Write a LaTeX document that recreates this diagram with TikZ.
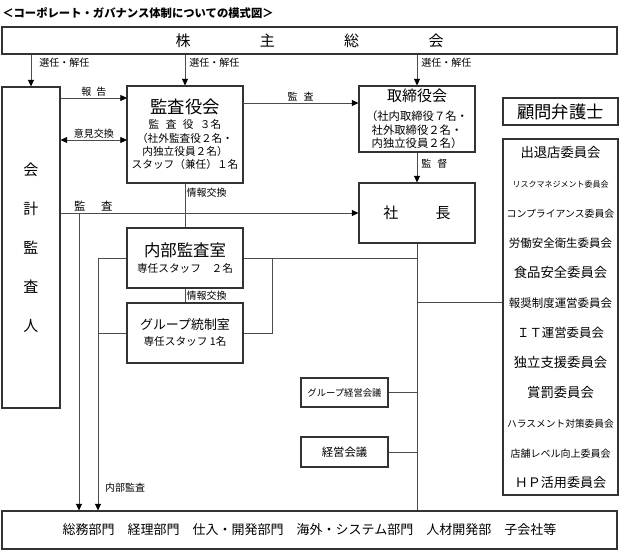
\documentclass[tikz,border=0pt]{standalone}
\usepackage{fontspec}
\setmainfont{Noto Sans CJK JP}
\usetikzlibrary{arrows.meta}

\newcommand{\fsize}[2]{\fontsize{#1}{#2}\selectfont}

\begin{document}
\begin{tikzpicture}%
	[x=0.75pt,
	y=-0.75pt,
	box/.style={draw=black!80, line width=0.8pt, inner sep=0pt, align=center},
	link/.style={draw=black!70, line width=0.6pt},
	arr/.style={link, -{Triangle[length=5pt,width=4.5pt,color=black]}},
	arrs/.style={link, {Triangle[length=5pt,width=4.5pt,color=black]}-{Triangle[length=5pt,width=4.5pt,color=black]}},
	lbl/.style={font=\fsize{7.5}{9}, inner sep=1pt}]
	%
	\useasboundingbox (0,0) rectangle (624,553);
	%
	%% Title
	%%
	\node[anchor=west, inner sep=0pt, font=\bfseries\fsize{8.5}{10}] (title) at (2,13) {＜コーポレート・ガバナンス体制についての模式図＞};
	%%
	%% Boxes
	%%
	\node[box, minimum width=461.25pt, minimum height=20.25pt, font=\fsize{11.25}{13}] (holders) at (309.5,40.5) {株\hspace{52pt}主\hspace{52pt}総\hspace{52pt}会};
	\node[box, minimum width=43.5pt, minimum height=240.75pt, font=\fsize{11.25}{29.25}] (auditor) at (31,247.5) {会\\計\\監\\査\\人};
	\node[box, minimum width=87pt, minimum height=72.75pt, font=\fsize{8}{10}] (kansa) at (185,134.5) {{\fsize{13}{15}監査役会}\\[1.5pt] 監\hspace{.6em}査\hspace{.6em}役\hspace{.6em}３名\\ （社外監査役２名・\\ 内独立役員２名）\\ スタッフ（兼任）１名};
	\node[box, minimum width=87pt, minimum height=49.5pt, font=\fsize{8.5}{10.1}] (board) at (417,119) {{\fsize{11.25}{13}取締役会}\\[4pt] （社内取締役７名・\\ 社外取締役２名・\\ 内独立役員２名）};
	\node[box, minimum width=86.25pt, minimum height=20.25pt, font=\fsize{13}{15}] (lawyer) at (560.5,111.5) {顧問弁護士};
	\node[box, minimum width=86.25pt, minimum height=267pt, font=\fsize{8}{22.5}] (committee) at (560.5,317) {{\fsize{10}{12}出退店委員会}\\ {\fsize{6}{8}リスクマネジメント委員会}\\ {\fsize{7.4}{9}コンプライアンス委員会}\\ {\fsize{8.6}{10}労働安全衛生委員会}\\ {\fsize{10}{12}食品安全委員会}\\ {\fsize{8.6}{10}報奨制度運営委員会}\\ {\fsize{9.3}{11}ＩＴ運営委員会}\\ {\fsize{10}{12}独立支援委員会}\\ {\fsize{10}{12}賞罰委員会}\\ {\fsize{7.3}{9}ハラスメント対策委員会}\\ {\fsize{7.5}{9}店舗レベル向上委員会}\\ {\fsize{9.8}{12}ＨＰ活用委員会}};
	\node[box, minimum width=87pt, minimum height=45pt, font=\fsize{11.25}{13}] (president) at (417,213) {社\hspace{28pt}長};
	\node[box, minimum width=87pt, minimum height=45pt, font=\fsize{8}{10}] (internal) at (185,258) {{\fsize{12.3}{14}内部監査室}\\[2.5pt] 専任スタッフ　２名};
	\node[box, minimum width=87pt, minimum height=45pt, font=\fsize{8}{10}] (group) at (185,333) {{\fsize{9.7}{12}グループ統制室}\\[2pt] 専任スタッフ\ 1名};
	\node[box, minimum width=65.25pt, minimum height=21.75pt, font=\fsize{7}{9}] (gmeeting) at (344.5,392.5) {グループ経営会議};
	\node[box, minimum width=65.25pt, minimum height=22.5pt, font=\fsize{8.5}{10}] (meeting) at (344.5,452) {経営会議};
	\node[box, minimum width=461.25pt, minimum height=28.5pt, font=\fsize{9.75}{12}] (depts) at (309.5,530) {総務部門　経理部門　仕入・開発部門　海外・システム部門　人材開発部　子会社等};
	%%
	%% Corners of the connectors
	%%
	\coordinate (rep) at (127,98);
	\coordinate (opn) at (127,140);
	\coordinate (aud) at (243,103);
	\coordinate (chk) at (79,213);
	\coordinate (ia) at (98,258);
	\coordinate (ic) at (272,258);
	\coordinate (trunk) at (417,302);
	%%
	%% Arrows from the shareholders
	%%
	\draw[arr] (auditor.north |- holders.south) -- (auditor.north) node[lbl, pos=0.27, right, xshift=5pt] {選任・解任};
	\draw[arr] (kansa.north |- holders.south) -- (kansa.north) node[lbl, pos=0.27, right, xshift=2pt] {選任・解任};
	\draw[arr] (board.north |- holders.south) -- (board.north) node[lbl, pos=0.27, right, xshift=2pt] {選任・解任};
	%%
	%% Audit lines
	%%
	\draw[arr] (auditor.east |- rep) -- (rep) node[lbl, midway, above] {報\hspace{.5em}告};
	\draw[arrs] (auditor.east |- opn) -- (opn) node[lbl, midway, above] {意見交換};
	\draw[arr] (aud) -- (board.west |- aud) node[lbl, midway, above] {監\hspace{.6em}査};
	\draw[arr] (board.south) -- (president.north) node[lbl, midway, right, xshift=2pt, yshift=3pt] {監\hspace{.6em}督};
	\draw[arr] (auditor.east |- president.west) -- (president.west) node[lbl, pos=0.11, above, font=\fsize{8.5}{10}] {監\hspace{1.4em}査};
	\draw[arr] (chk) -- (chk |- depts.north);
	%%
	%% Internal audit
	%%
	\draw[link] (kansa.south) -- (internal.north) node[lbl, pos=0.2, right] {情報交換};
	\draw[link] (internal.south) -- (group.north) node[lbl, midway, right] {情報交換};
	\draw[link] (internal.west) -- (ia);
	\draw[link] (group.west) -- (group.west -| ia);
	\draw[arr] (ia) -- (ia |- depts.north) node[lbl, pos=0.91, right, xshift=4pt] {内部監査};
	\draw[link] (internal.east) -- (president.south |- internal.east);
	\draw[link] (ic) |- (group.east);
	%%
	%% Lines from the president
	%%
	\draw[link] (president.south) -- (president.south |- depts.north);
	\draw[link] (trunk) -- (committee.west |- trunk);
	\draw[link] (gmeeting.east) -- (gmeeting.east -| president.south);
	\draw[link] (meeting.east) -- (meeting.east -| president.south);
	%%
\end{tikzpicture}
\end{document}
